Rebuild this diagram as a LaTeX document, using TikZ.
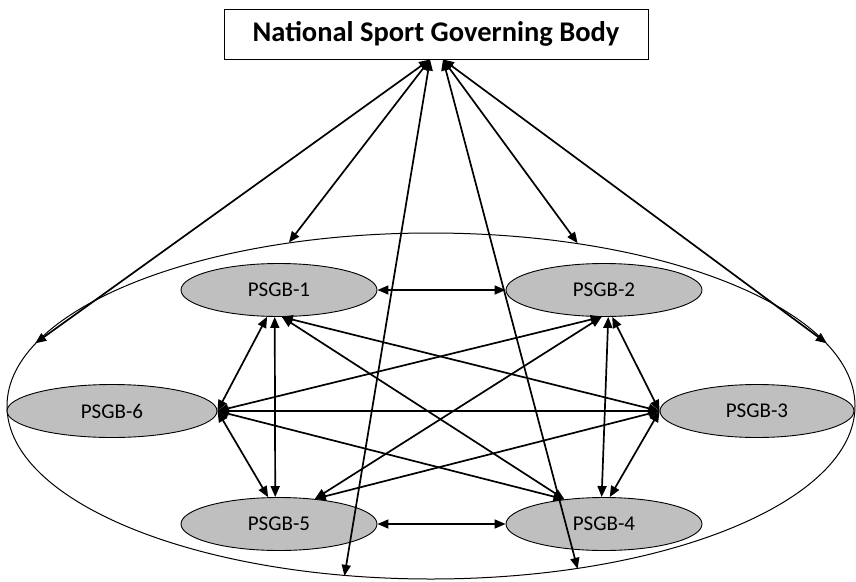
\documentclass[tikz,border=0pt]{standalone}
\usepackage{fontspec}
\setmainfont{Carlito}
\usetikzlibrary{shapes.geometric,arrows.meta}
\definecolor{nodegray}{RGB}{191,191,191}
\begin{document}
\begin{tikzpicture}[x=1pt,y=-1pt,
  psgb/.style={ellipse,draw,line width=0.9pt,fill=nodegray,minimum width=196pt,minimum height=53pt,inner sep=0pt,font=\fontsize{21}{25}\selectfont},
  link/.style={{Triangle[length=11pt,width=9pt]}-{Triangle[length=11pt,width=9pt]},line width=1.7pt},
]
\useasboundingbox (0,0) rectangle (856,581);
\node[draw, line width=1pt, minimum width=424pt, minimum height=50pt, inner sep=0pt,
      font=\bfseries\fontsize{28.5}{33}\selectfont] (top) at (436,34) {National Sport Governing Body};
\node[ellipse, draw, line width=1pt, minimum width=848pt, minimum height=346pt, inner sep=0pt] (ring) at (431,406) {};
\node[psgb] (p1) at (279,290) {PSGB-1};
\node[psgb] (p2) at (604,290) {PSGB-2};
\node[psgb, minimum width=194pt] (p3) at (757,411) {PSGB-3};
\node[psgb] (p4) at (604,524) {PSGB-4};
\node[psgb] (p5) at (279,524) {PSGB-5};
\node[psgb, minimum width=210pt] (p6) at (112,411) {PSGB-6};

\coordinate (tL) at ([xshift=-6pt]top.south);
\coordinate (tR) at ([xshift=7pt]top.south);
\draw[link] (tL) -- (ring.171.7);
\draw[link] (tL) -- (ring.131.5);
\draw[link] (tL) -- (ring.243.4);
\draw[link] (tR) -- (ring.48.3);
\draw[link] (tR) -- (ring.9.2);
\draw[link] (tR) -- (ring.312.2);

\draw[link] (p1.east) -- (p2.west);
\draw[link] (p5.east) -- (p4.west);
\draw[link] (p6.east) -- (p3.west);
\draw[link] (p1.246) -- (p6.east);
\draw[link] (p1.261) -- (p5.98);
\draw[link] (p1.276) -- (p3.west);
\draw[link] (p1.276) -- (p4.148);
\draw[link] (p2.265) -- (p6.east);
\draw[link] (p2.265) -- (p5.35);
\draw[link] (p2.279) -- (p4.95);
\draw[link] (p2.287) -- (p3.west);
\draw[link] (p3.west) -- (p4.78);
\draw[link] (p3.west) -- (p5.35);
\draw[link] (p6.east) -- (p4.148);
\draw[link] (p6.east) -- (p5.112);
\end{tikzpicture}
\end{document}
